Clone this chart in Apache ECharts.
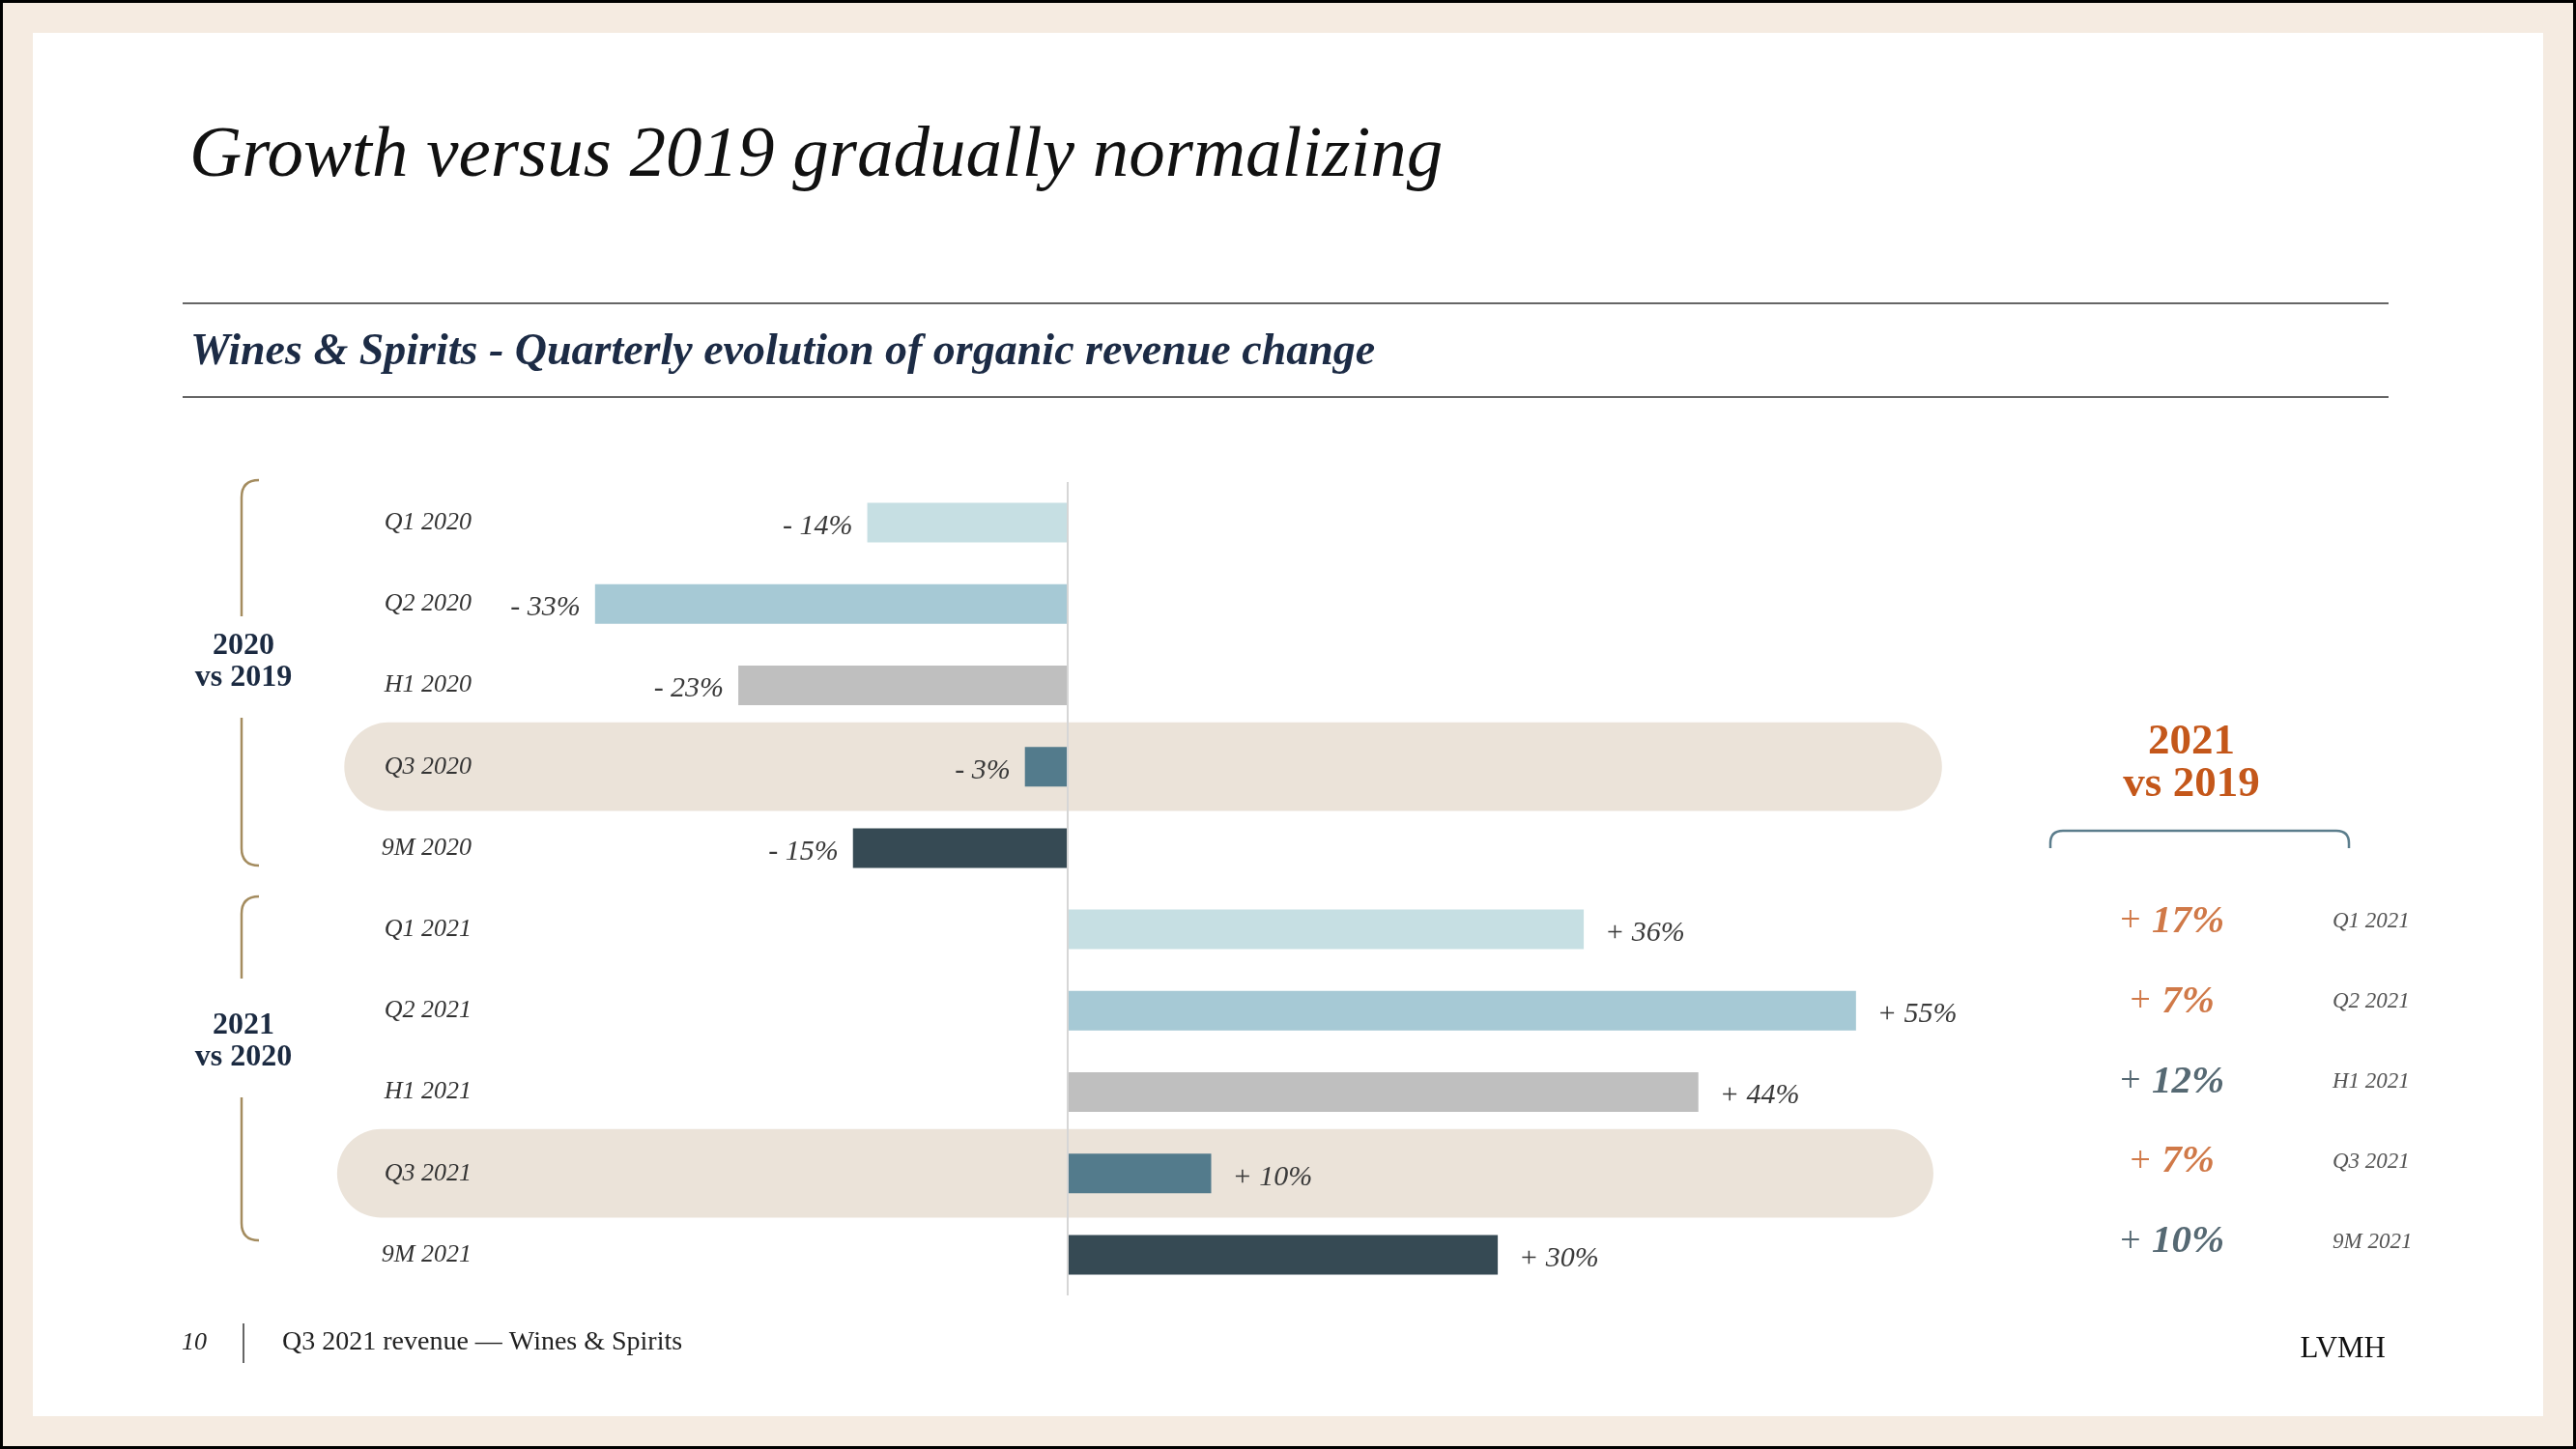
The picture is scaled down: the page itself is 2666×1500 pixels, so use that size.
<!DOCTYPE html>
<html><head><meta charset="utf-8">
<script src="https://cdn.jsdelivr.net/npm/echarts@6/dist/echarts.min.js"></script>
<style>
html,body{margin:0;padding:0;background:#f5ebe1;}
#frame{position:relative;width:2666px;height:1500px;box-sizing:border-box;border:3px solid #000;background:#f5ebe1;overflow:hidden;}
#panel{position:absolute;left:31px;top:31px;width:2598px;height:1432px;background:#fff;}
#chart{position:absolute;left:-3px;top:-3px;width:2666px;height:1500px;}
</style></head>
<body>
<div id="frame"><div id="panel"></div><div id="chart"></div></div>
<script>
// ---- data ----
const categories = ['Q1 2020','Q2 2020','H1 2020','Q3 2020','9M 2020','Q1 2021','Q2 2021','H1 2021','Q3 2021','9M 2021'];
const growthValues = [-14, -33, -23, -3, -15, 36, 55, 44, 10, 30];
const highlightedPeriods = ['Q3 2020', 'Q3 2021'];
const highlightStart = [-50.5, -51];
const highlightEnd = [61, 60.4];
const periods2021 = ['Q1 2021','Q2 2021','H1 2021','Q3 2021','9M 2021'];
const growthVs2019 = [17, 7, 12, 7, 10];

// ---- styles ----
const FONT = '"Liberation Serif", "Times New Roman", serif';
const periodColors = ['#c6dfe3', '#a6c9d5', '#bfbfbf', '#537b8c', '#364a54'];
const ORANGE = '#c4571a', DARK = '#2c4350', NAVY = '#1b2a41', GOLD = '#a48c5f', SLATE = '#5b7d8c';

const fmt = v => (v < 0 ? '- ' + (-v) : '+ ' + v) + '%';

const barData = growthValues.map((v, i) => ({
  value: v,
  itemStyle: { color: periodColors[i % 5] },
  label: { position: v < 0 ? 'left' : 'right', distance: v < 0 ? 15 : 22 }
}));

const pillData = highlightedPeriods.map((p, i) => [p, highlightStart[i], highlightEnd[i]]);

const vs2019Data = periods2021.map((p, i) => ({
  value: [0.5, p, growthVs2019[i]],
  label: { formatter: (p.startsWith('Q') ? '{so|+ }{vo|' : '{sd|+ }{vd|') + growthVs2019[i] + '%}' }
}));

const txt = (x, y, text, font, fill, align) => ({
  type: 'text', x, y, silent: true,
  style: { text, font, fill, textAlign: align || 'left', textVerticalAlign: 'middle', align: align || 'left', verticalAlign: 'middle' }
});
const seg = (x1, y1, x2, y2, stroke, w) => ({
  type: 'line', silent: true, shape: { x1, y1, x2, y2 }, style: { stroke, lineWidth: w }
});
const curve = (x1, y1, cx, cy, x2, y2, stroke, w) => ({
  type: 'bezierCurve', silent: true, shape: { x1, y1, x2, y2, cpx1: cx, cpy1: cy },
  style: { stroke, lineWidth: w, fill: null }
});

const chart = echarts.init(document.getElementById('chart'), null, { renderer: 'canvas' });
chart.setOption({
  animation: false,
  grid: [
    { left: 512, top: 499, width: 1483, height: 842 },
    { left: 2147, top: 913, width: 200, height: 414 }
  ],
  xAxis: [
    { type: 'value', min: -40, max: 60, show: false },
    { type: 'value', gridIndex: 1, min: 0, max: 1, show: false }
  ],
  yAxis: [
    { type: 'category', data: categories, inverse: true, z: 10,
      axisLine: { show: false }, axisTick: { show: false }, splitLine: { show: false },
      axisLabel: { margin: 24, fontFamily: FONT, fontStyle: 'italic', fontSize: 26, color: '#333', padding: [4, 0, 0, 0] } },
    { type: 'category', gridIndex: 1, data: periods2021, inverse: true, position: 'right', z: 10,
      axisLine: { show: false }, axisTick: { show: false }, splitLine: { show: false },
      axisLabel: { margin: 67, fontFamily: FONT, fontStyle: 'italic', fontSize: 23, color: '#555', padding: [10, 0, 0, 0] } }
  ],
  series: [
    { type: 'custom', z: 1, silent: true, clip: false,
      encode: { y: 0, x: [1, 2] },
      data: pillData,
      renderItem: (params, api) => {
        const cat = api.value(0);
        const a = api.coord([api.value(1), cat]);
        const b = api.coord([api.value(2), cat]);
        const h = api.size([0, 1])[1] * 1.09;
        return { type: 'rect', shape: { x: a[0], y: a[1] - h / 2, width: b[0] - a[0], height: h, r: h / 2 },
                 style: { fill: '#ebe3d9' } };
      } },
    { type: 'bar', z: 3, barWidth: 41, data: barData, silent: true,
      label: { show: true, formatter: p => fmt(p.value), fontFamily: FONT, fontStyle: 'italic', fontSize: 30, color: '#3a3a3a', offset: [0, 4] },
      markLine: { silent: true, symbol: 'none', label: { show: false },
        lineStyle: { color: '#d6d6d6', width: 2, type: 'solid' },
        data: [{ xAxis: 0 }] } },
    { type: 'scatter', xAxisIndex: 1, yAxisIndex: 1, symbolSize: 1, silent: true,
      itemStyle: { color: 'rgba(0,0,0,0)' },
      data: vs2019Data,
      label: { show: true, position: 'inside',
        rich: {
          so: { fontFamily: FONT, fontStyle: 'italic', fontSize: 38, color: ORANGE },
          vo: { fontFamily: FONT, fontStyle: 'italic', fontWeight: 'bold', fontSize: 41, color: ORANGE },
          sd: { fontFamily: FONT, fontStyle: 'italic', fontSize: 38, color: DARK },
          vd: { fontFamily: FONT, fontStyle: 'italic', fontWeight: 'bold', fontSize: 41, color: DARK }
        } } }
  ],
  graphic: [
    txt(196, 162, 'Growth versus 2019 gradually normalizing', 'italic 75px ' + FONT, '#111'),
    seg(189, 314, 2472, 314, '#333', 1.5),
    txt(197, 365, 'Wines & Spirits - Quarterly evolution of organic revenue change', 'italic bold 46px ' + FONT, '#1c2b45'),
    seg(189, 411, 2472, 411, '#333', 1.5),
    // left group brackets
    curve(268, 497, 250, 497, 250, 515, GOLD, 2.5), seg(250, 515, 250, 638, GOLD, 2.5),
    seg(250, 743, 250, 878, GOLD, 2.5), curve(250, 878, 250, 896, 268, 896, GOLD, 2.5),
    curve(268, 928, 250, 928, 250, 946, GOLD, 2.5), seg(250, 946, 250, 1013, GOLD, 2.5),
    seg(250, 1136, 250, 1266, GOLD, 2.5), curve(250, 1266, 250, 1284, 268, 1284, GOLD, 2.5),
    txt(252, 669, '2020', 'bold 32px ' + FONT, NAVY, 'center'),
    txt(252, 702, 'vs 2019', 'bold 32px ' + FONT, NAVY, 'center'),
    txt(252, 1062, '2021', 'bold 32px ' + FONT, NAVY, 'center'),
    txt(252, 1095, 'vs 2020', 'bold 32px ' + FONT, NAVY, 'center'),
    // right panel heading
    txt(2268, 768, '2021', 'bold 45px ' + FONT, ORANGE, 'center'),
    txt(2268, 812, 'vs 2019', 'bold 45px ' + FONT, ORANGE, 'center'),
    seg(2122, 878, 2122, 873, SLATE, 2.5), curve(2122, 873, 2122, 860, 2135, 860, SLATE, 2.5),
    seg(2135, 860, 2418, 860, SLATE, 2.5), curve(2418, 860, 2431, 860, 2431, 873, SLATE, 2.5),
    seg(2431, 873, 2431, 878, SLATE, 2.5),
    // footer
    txt(188, 1390, '10', 'italic 26px ' + FONT, '#222'),
    seg(252, 1370, 252, 1411, '#333', 1.5),
    txt(292, 1390, 'Q3 2021 revenue \u2014 Wines & Spirits', '28px ' + FONT, '#222'),
    txt(2469, 1397, 'LVMH', '31px ' + FONT, '#111', 'right')
  ]
});
</script>
</body></html>
